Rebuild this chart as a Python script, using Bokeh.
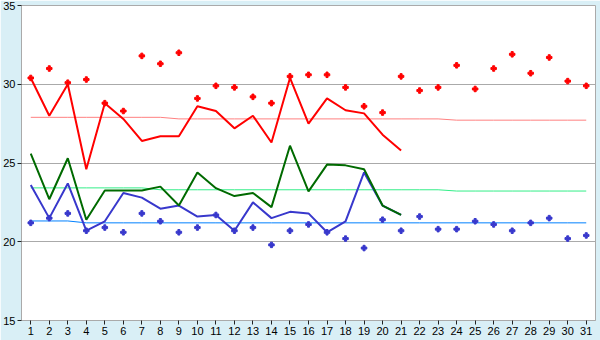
from bokeh.plotting import figure
from bokeh.models import FixedTicker
from bokeh.embed import file_html
from bokeh.resources import INLINE

days = list(range(1, 32))
line_days = list(range(1, 22))

red_line = [30.4, 28.0, 30.0, 24.6, 28.8, 27.8, 26.4, 26.7, 26.7, 28.6, 28.3,
            27.2, 28.0, 26.3, 30.4, 27.5, 29.1, 28.35, 28.15, 26.8, 25.8]
red_pts = [30.4, 31.0, 30.1, 30.3, 28.8, 28.3, 31.8, 31.3, 32.0, 29.1, 29.9,
           29.8, 29.2, 28.8, 30.5, 30.6, 30.6, 29.8, 28.6, 28.2, 30.5, 29.6,
           29.8, 31.2, 29.7, 31.0, 31.9, 30.7, 31.7, 30.2, 29.9]
red_avg = [27.9] * 8 + [27.8] * 15 + [27.72] * 8

green_line = [25.6, 22.7, 25.3, 21.4, 23.25, 23.25, 23.25, 23.5, 22.3, 24.4, 23.4,
              22.9, 23.1, 22.2, 26.1, 23.2, 24.9, 24.85, 24.6, 22.3, 21.7]
green_avg = [23.42] * 7 + [23.3] * 16 + [23.22] * 8

blue_line = [23.6, 21.5, 23.7, 20.7, 21.3, 23.1, 22.8, 22.1, 22.3, 21.6, 21.7,
             20.7, 22.5, 21.5, 21.9, 21.8, 20.6, 21.3, 24.4, 22.3, 21.7]
blue_pts = [21.2, 21.5, 21.8, 20.7, 20.9, 20.6, 21.8, 21.3, 20.6, 20.9, 21.7,
            20.7, 20.9, 19.8, 20.7, 21.1, 20.6, 20.2, 19.6, 21.4, 20.7, 21.6,
            20.8, 20.8, 21.3, 21.1, 20.7, 21.2, 21.5, 20.2, 20.4]
blue_avg = [21.32] * 3 + [21.2] * 28

y_ticks = [15, 20, 25, 30, 35]

p = figure(width=600, height=340, x_range=(0.5, 31.5), y_range=(15, 35),
           output_backend="svg", toolbar_location=None,
           min_border_left=20, min_border_right=5, min_border_top=5, min_border_bottom=20,
           background_fill_color="white", border_fill_color="#d9eff6",
           outline_line_color="#aaaaaa", outline_line_width=1)

p.xgrid.visible = False
p.ygrid.grid_line_color = "#aaaaaa"
p.ygrid.grid_line_width = 1

p.xaxis.ticker = FixedTicker(ticks=days)
p.yaxis.ticker = FixedTicker(ticks=y_ticks)
for ax in (p.xaxis, p.yaxis):
    ax.axis_line_color = "#aaaaaa"
    ax.major_tick_line_color = "#222222"
    ax.major_tick_in = 0
    ax.major_tick_out = 4
    ax.minor_tick_line_color = None
    ax.major_label_text_font = "Liberation Sans"
    ax.major_label_text_font_size = "11px"
    ax.major_label_text_color = "black"
    ax.major_label_standoff = 2

p.line(days, red_avg, line_color="#ff8080", line_width=1)
p.line(days, green_avg, line_color="#33ee88", line_width=1)
p.line(days, blue_avg, line_color="#0080ff", line_width=1)

p.line(line_days, blue_line, line_color="#3838cc", line_width=2)
p.line(line_days, green_line, line_color="#006a00", line_width=2)
p.line(line_days, red_line, line_color="#ff0000", line_width=2)

p.scatter(days, blue_pts, marker="plus", size=5.5, color="#3838cc")
p.scatter(days, red_pts, marker="plus", size=5.5, color="#ff0000")

open("out.html", "w").write(file_html(p, INLINE))
